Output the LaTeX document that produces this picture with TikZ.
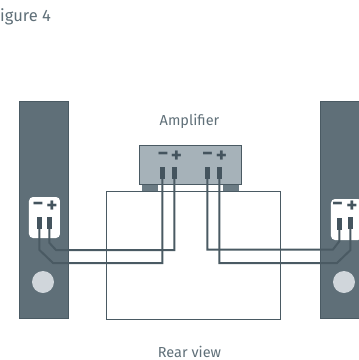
\documentclass[tikz,border=0pt]{standalone}
\usepackage{fontspec}
\setmainfont{Fira Sans}
\usetikzlibrary{positioning}
\definecolor{slate}{HTML}{5F6F78}
\definecolor{slateline}{HTML}{4A5A63}
\definecolor{postdark}{HTML}{44545E}
\definecolor{ampfill}{HTML}{A6B2B9}
\definecolor{footfill}{HTML}{6B7B84}
\definecolor{conegrey}{HTML}{D0D6DB}
\tikzset{
  speaker/.style={rectangle,draw=slateline,fill=slate,line width=0.5pt,minimum width=49pt,minimum height=217pt,inner sep=0pt},
  terminal/.style={rectangle,rounded corners=4pt,fill=white,minimum width=31pt,minimum height=41pt,inner sep=0pt},
  cone/.style={circle,fill=conegrey,minimum size=22pt,inner sep=0pt},
  post/.style={rectangle,fill=postdark,minimum width=5pt,minimum height=12pt,inner sep=0pt},
  sign/.style={inner sep=0pt,text=postdark,font=\bfseries\fontsize{21}{21}\selectfont},
  wire/.style={draw=slateline,line width=2pt},
  caption/.style={inner sep=0pt,text=slate,font=\fontsize{14.5}{16}\selectfont}
}
\begin{document}
\begin{tikzpicture}[x=1pt,y=-1pt]
\useasboundingbox (0,0) rectangle (359,360);
\node (figlabel) [caption,anchor=base west,font=\fontsize{16.5}{18}\selectfont] at (0,21) {igure 4};
\node (ampl) [caption] at (189.5,121) {Amplifier};
\node (rear) [caption] at (189.5,352) {Rear view};
% speakers
\node (spkL) [speaker] at (43.5,210) {};
\node (spkR) [speaker] at (344.5,210) {};
\node (termL) [terminal] at (44.5,217.5) {};
\node (termR) [terminal] at (346.5,219.5) {};
\node (coneL) [cone] at (43,282) {};
\node (coneR) [cone] at (344,282) {};
% room and amplifier
\node (room) [rectangle,draw=slateline,line width=0.8pt,minimum width=174pt,minimum height=128pt,inner sep=0pt] at (193.5,255) {};
\node (footL) [rectangle,fill=footfill,minimum width=16pt,minimum height=7pt,inner sep=0pt] at (150,187.5) {};
\node (footR) [rectangle,fill=footfill,minimum width=16pt,minimum height=7pt,inner sep=0pt] at (231,187.5) {};
\node (amp) [rectangle,draw=slateline,fill=ampfill,line width=0.8pt,minimum width=102pt,minimum height=39pt,inner sep=0pt] at (190.5,164.5) {};
% terminals
\node (sLm) [sign] at (38,206.5) {\textminus};
\node (sLp) [sign] at (52,206.5) {+};
\node (sRm) [sign] at (337.5,206.5) {\textminus};
\node (sRp) [sign] at (352,206.5) {+};
\node (aLm) [sign] at (163,156.5) {\textminus};
\node (aLp) [sign] at (176.5,156.5) {+};
\node (aRm) [sign] at (207.5,156.5) {\textminus};
\node (aRp) [sign] at (221.5,156.5) {+};
\node (pLm) [post] at (39.5,223) {};
\node (pLp) [post] at (49.5,223) {};
\node (pRm) [post] at (339.5,223.5) {};
\node (pRp) [post] at (350.5,223) {};
\node (qLm) [post] at (162.5,173) {};
\node (qLp) [post] at (174.5,173) {};
\node (qRm) [post] at (207.5,173) {};
\node (qRp) [post] at (219.5,173) {};
% wires
\draw [wire] (pLm.south) -- (39.5,250) -- (53,263) -| (qLm.south);
\draw [wire] (pLp.south) -- (49.5,243) -- (56,250) -| (qLp.south);
\draw [wire] (pRm.south) -- (339.5,241) -- (333,249.5) -| (qRm.south);
\draw [wire] (pRp.south) -- (350.5,250) -- (337,263) -| (qRp.south);
\end{tikzpicture}
\end{document}
